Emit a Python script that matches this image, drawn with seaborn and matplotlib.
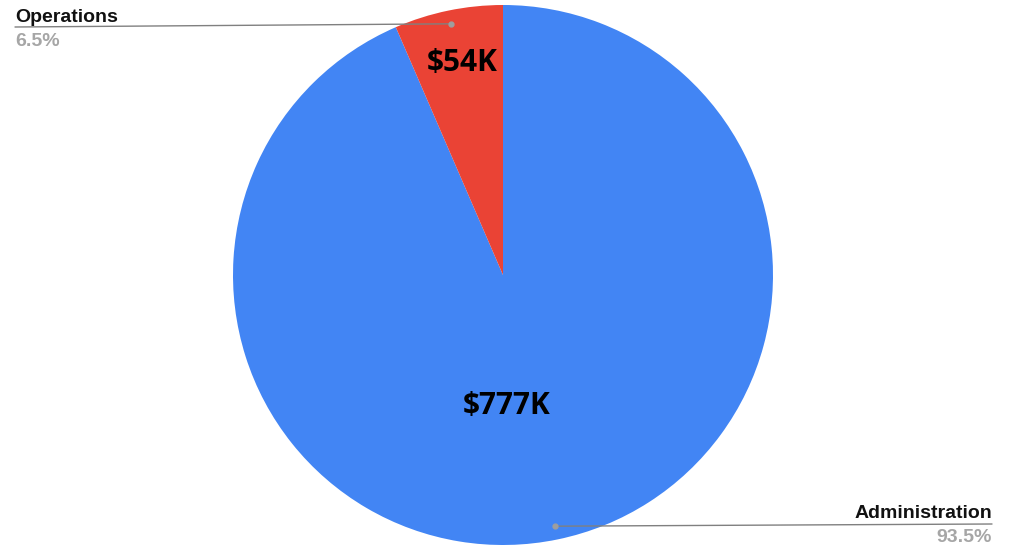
import numpy as np
import matplotlib.pyplot as plt
import seaborn as sns

# data
labels = ['Administration', 'Operations']
values = [777, 54]
value_text = ['$777K', '$54K']
colors = ['#4285F4', '#EA4335']

sns.set_theme(style='white')
plt.rcParams['font.family'] = ['Liberation Sans', 'DejaVu Sans']

W, H = 1009, 545
fig = plt.figure(figsize=(W / 100, H / 100), dpi=100)
ax = fig.add_axes([0, 0, 1, 1])

cx, cy, R = 503, H - 275, 270
wedges, _ = ax.pie(values, colors=colors, startangle=90, counterclock=False,
                   center=(cx, cy), radius=R, frame=True,
                   wedgeprops=dict(linewidth=0))
ax.set_xlim(0, W)
ax.set_ylim(0, H)
ax.set_aspect('equal')
ax.axis('off')

total = sum(values)
pct = [v / total * 100 for v in values]

# value labels inside slices
inner_pos = [(507, H - 406), (462, H - 63)]
for (x, y), t in zip(inner_pos, value_text):
    ax.text(x, y, t, ha='center', va='center', fontsize=21.5, fontweight='bold',
            family=['Open Sans', 'DejaVu Sans'], color='black')

# leader lines and outer labels
for i, w in enumerate(wedges):
    mid = np.deg2rad((w.theta1 + w.theta2) / 2)
    dx, dy = cx + 0.95 * R * np.cos(mid), cy + 0.95 * R * np.sin(mid)
    ax.plot([dx], [dy], 'o', color='#9e9e9e', ms=3.5, zorder=5)
    if i == 1:
        ex, ey = 15, H - 27
        ha = 'left'
        off = 2
    else:
        ex, ey = 992, H - 524
        ha = 'right'
        off = 1
    ax.plot([dx, ex], [dy, ey], color='#808080', lw=1, zorder=4)
    ax.text(ex, ey + 3 - off, labels[i], ha=ha, va='bottom', fontsize=14,
            fontweight='bold', color='#111111')
    ax.text(ex, ey - 4 - off, f'{pct[i]:.1f}%', ha=ha, va='top', fontsize=14,
            fontweight='bold', color='#a6a6a6')

fig.savefig('out.png', dpi=100, facecolor='white')
